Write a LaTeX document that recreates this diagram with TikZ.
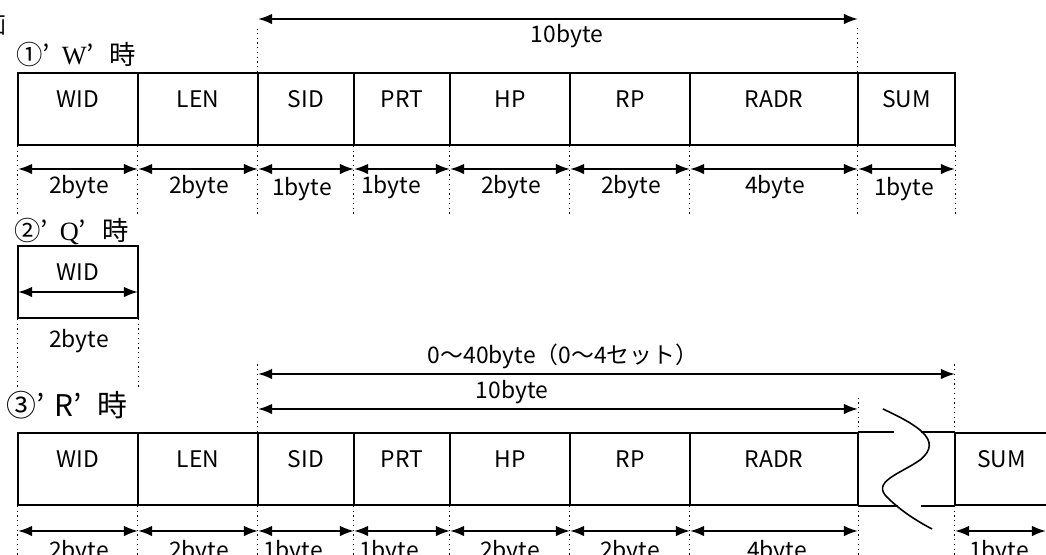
\documentclass[tikz,border=0pt]{standalone}
\usepackage{fontspec}
\setmainfont{Noto Sans CJK JP}
\newfontfamily\romanfont{Liberation Serif}
\usetikzlibrary{arrows.meta}

\tikzset{
  field/.style={draw, line width=1pt, minimum height=1.44cm, inner sep=0pt,
    text height=9.5pt, text depth=11.7pt, font=\fontsize{13pt}{15pt}\selectfont},
  guide/.style={dotted, line width=0.7pt},
  dim/.style={<->, line width=1.1pt},
  size/.style={anchor=base, inner sep=0pt, font=\fontsize{13pt}{15pt}\selectfont},
  title/.style={anchor=base west, inner sep=0pt, font=\fontsize{15pt}{17pt}\selectfont}
}

\begin{document}
\begin{tikzpicture}[x=0.02cm, y=-0.02cm, >={Latex[length=8pt,width=6pt]}]
\useasboundingbox (0,0) rectangle (1046,555);

% 'W' frame
\node[anchor=base east, inner sep=0pt, font=\fontsize{13pt}{15pt}\selectfont] (ga) at (7,33) {画};
\node[title] (wtitle) at (16,64) {①’\hspace{0.45em}{\romanfont W}’\hspace{0.6em}時};
\node[field, minimum width=2.4cm] (wwid) at (78,109) {WID};
\node[field, minimum width=2.4cm] (wlen) at (198,109) {LEN};
\node[field, minimum width=1.92cm] (wsid) at (306,109) {SID};
\node[field, minimum width=1.92cm] (wprt) at (402,109) {PRT};
\node[field, minimum width=2.4cm] (whp) at (510,109) {HP};
\node[field, minimum width=2.4cm] (wrp) at (630,109) {RP};
\node[field, minimum width=3.36cm] (wradr) at (774,109) {RADR};
\node[field, minimum width=1.94cm] (wsum) at (906.5,109) {SUM};

\draw[guide] (wsid.north west) -- ++(0,-43);
\draw[guide] (wsum.north west) -- ++(0,-46);
\coordinate (wt0) at (258,19);
\coordinate (wt1) at (858,19);
\draw[dim] (wt0) -- (wt1);
\node[size] (wtl) at (567,42) {10byte};

\draw[guide] (wwid.south west) -- ++(0,68);
\draw[guide] (wlen.south west) -- ++(0,68);
\draw[guide] (wsid.south west) -- ++(0,68);
\draw[guide] (wprt.south west) -- ++(0,68);
\draw[guide] (whp.south west) -- ++(0,68);
\draw[guide] (wrp.south west) -- ++(0,68);
\draw[guide] (wradr.south west) -- ++(0,68);
\draw[guide] (wsum.south west) -- ++(0,68);
\draw[guide] (wsum.south east) -- ++(0,68);

\coordinate (wd0) at (18,169);
\coordinate (wd1) at (138,169);
\coordinate (wd2) at (258,169);
\coordinate (wd3) at (354,169);
\coordinate (wd4) at (450,169);
\coordinate (wd5) at (570,169);
\coordinate (wd6) at (690,169);
\coordinate (wd7) at (858,169);
\coordinate (wd8) at (955,169);
\draw[dim] (wd0) -- (wd1);
\draw[dim] (wd1) -- (wd2);
\draw[dim] (wd2) -- (wd3);
\draw[dim] (wd3) -- (wd4);
\draw[dim] (wd4) -- (wd5);
\draw[dim] (wd5) -- (wd6);
\draw[dim] (wd6) -- (wd7);
\draw[dim] (wd7) -- (wd8);
\node[size] (wl1) at (79,193) {2byte};
\node[size] (wl2) at (199,193) {2byte};
\node[size] (wl3) at (302,195) {1byte};
\node[size] (wl4) at (391,193) {1byte};
\node[size] (wl5) at (511,193) {2byte};
\node[size] (wl6) at (631,193) {2byte};
\node[size] (wl7) at (775,193) {4byte};
\node[size] (wl8) at (904,195) {1byte};

% 'Q' frame
\node[title] (qtitle) at (14,240) {②’\hspace{0.45em}{\romanfont Q}’\hspace{0.6em}時};
\node[field, minimum width=2.4cm] (qwid) at (78,282) {WID};
\coordinate (qd0) at (18,292);
\coordinate (qd1) at (138,292);
\draw[dim] (qd0) -- (qd1);
\draw[guide] (qwid.south west) -- ++(0,69);
\draw[guide] (qwid.south east) -- ++(0,69);
\node[size] (ql1) at (79,347) {2byte};

% 'R' frame
\node[anchor=base west, inner sep=0pt, font=\fontsize{17pt}{19pt}\selectfont] (rtitle) at (6,416) {③’\hspace{0.35em}R’\hspace{0.5em}時};
\node[field, minimum width=2.4cm] (rwid) at (78,469) {WID};
\node[field, minimum width=2.4cm] (rlen) at (198,469) {LEN};
\node[field, minimum width=1.92cm] (rsid) at (306,469) {SID};
\node[field, minimum width=1.92cm] (rprt) at (402,469) {PRT};
\node[field, minimum width=2.4cm] (rhp) at (510,469) {HP};
\node[field, minimum width=2.4cm] (rrp) at (630,469) {RP};
\node[field, minimum width=3.36cm] (rradr) at (774,469) {RADR};
\node[field, minimum width=1.86cm] (rsum) at (1001.5,469) {SUM};

% break in the frame
\draw[line width=1pt] (rradr.north east) -- ++(35,0);
\draw[line width=1pt] (rradr.south east) -- ++(39,0);
\draw[line width=1pt] (rsum.north west) -- ++(-33,0);
\draw[line width=1pt] (rsum.south west) -- ++(-33,0);
\draw[line width=0.9pt] (883,409) .. controls (915,424) and (945,440) .. (920,460)
  .. controls (900,474) and (870,482) .. (888,498) .. controls (900,510) and (915,520) .. (932,529);

\draw[guide] (rsid.north west) -- ++(0,-70);
\draw[guide] (rsum.north west) -- ++(0,-70);
\draw[guide] (rradr.north east) -- ++(0,-35);
\coordinate (rs0) at (258,374);
\coordinate (rs1) at (955,374);
\draw[dim] (rs0) -- (rs1);
\node[size] (rsl) at (563,363) {0～40byte（0～4セット）};
\coordinate (rt0) at (258,409);
\coordinate (rt1) at (858,409);
\draw[dim] (rt0) -- (rt1);
\node[size] (rtl) at (512,398) {10byte};

\draw[guide] (rwid.south west) -- ++(0,55);
\draw[guide] (rlen.south west) -- ++(0,55);
\draw[guide] (rsid.south west) -- ++(0,55);
\draw[guide] (rprt.south west) -- ++(0,55);
\draw[guide] (rhp.south west) -- ++(0,55);
\draw[guide] (rrp.south west) -- ++(0,55);
\draw[guide] (rradr.south west) -- ++(0,55);
\draw[guide] (rradr.south east) -- ++(0,55);
\draw[guide] (rsum.south west) -- ++(0,55);

\coordinate (rd0) at (18,531);
\coordinate (rd1) at (138,531);
\coordinate (rd2) at (258,531);
\coordinate (rd3) at (354,531);
\coordinate (rd4) at (450,531);
\coordinate (rd5) at (570,531);
\coordinate (rd6) at (690,531);
\coordinate (rd7) at (858,531);
\coordinate (rd8) at (955,531);
\coordinate (rd9) at (1046,531);
\draw[dim] (rd0) -- (rd1);
\draw[dim] (rd1) -- (rd2);
\draw[dim] (rd2) -- (rd3);
\draw[dim] (rd3) -- (rd4);
\draw[dim] (rd4) -- (rd5);
\draw[dim] (rd5) -- (rd6);
\draw[dim] (rd6) -- (rd7);
\draw[dim] (rd8) -- (rd9);
\node[size] (rl1) at (79,558) {2byte};
\node[size] (rl2) at (199,558) {2byte};
\node[size] (rl3) at (293,558) {1byte};
\node[size] (rl4) at (389,558) {1byte};
\node[size] (rl5) at (510,558) {2byte};
\node[size] (rl6) at (630,558) {2byte};
\node[size] (rl7) at (777,558) {4byte};
\node[size] (rl8) at (999,558) {1byte};
\end{tikzpicture}
\end{document}
